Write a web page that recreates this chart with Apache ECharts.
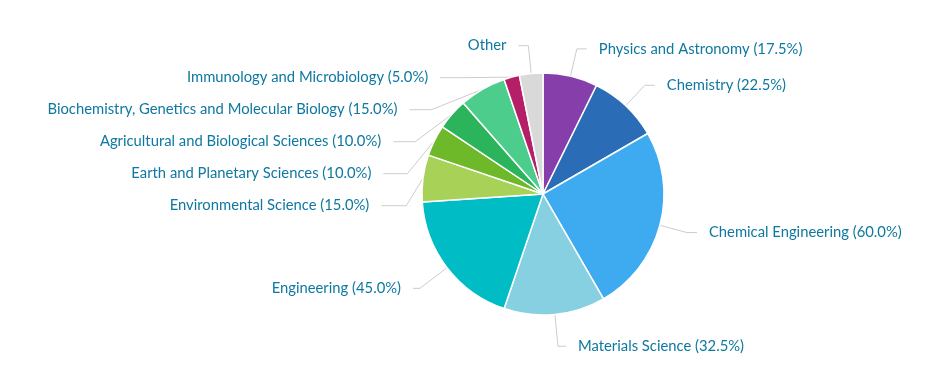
<!DOCTYPE html>
<html>
<head>
<meta charset="utf-8">
<script src="https://cdn.jsdelivr.net/npm/echarts@6/dist/echarts.min.js"></script>
<style>html,body{margin:0;padding:0;background:#fff;}#c{width:931px;height:370px;}</style>
</head>
<body>
<div id="c"></div>
<script>
var categories = ["Physics and Astronomy","Chemistry","Chemical Engineering","Materials Science","Engineering","Environmental Science","Earth and Planetary Sciences","Agricultural and Biological Sciences","Biochemistry, Genetics and Molecular Biology","Immunology and Microbiology","Other"];
var values = [17.5, 22.5, 60.0, 32.5, 45.0, 15.0, 10.0, 10.0, 15.0, 5.0, 7.5];
var showPct = [true, true, true, true, true, true, true, true, true, true, false];
var colors = ["#853eaa","#2a6cb6","#3eaaf0","#86d0e2","#00bcc4","#a8d158","#6eb92a","#2bb45b","#4dcd8c","#b41f68","#d9d9d9"];
// guide-line styling per slice (second segment length, first segment length)
var lineLen2 = [10, 10, 10, 8, 7, 25, 24, 22, 22, 20, 10];
var lineLen1 = [28, 28, 28, 32, 34, 28, 28, 28, 28, 28, 28];

var data = categories.map(function(c, i){
  return {
    name: c, value: values[i],
    itemStyle: {color: colors[i]},
    labelLine: {length: lineLen1[i], length2: lineLen2[i]}
  };
});

var chart = echarts.init(document.getElementById('c'), null, {renderer: 'canvas'});
chart.setOption({
  animation: false,
  series: [{
    type: 'pie',
    center: [543, 194],
    radius: [0, 121],
    startAngle: 90,
    clockwise: true,
    avoidLabelOverlap: true,
    data: data,
    itemStyle: {borderColor: '#fff', borderWidth: 1.5},
    label: {
      show: true,
      fontFamily: 'Lato',
      fontSize: 14.8,
      color: '#0e78a0',
      lineHeight: 25,
      padding: [5, 0, 0, 0],
      distanceToLabelLine: 12,
      formatter: function(p){
        return showPct[p.dataIndex] ? p.name + ' (' + p.value.toFixed(1) + '%)' : p.name;
      }
    },
    labelLine: {
      show: true,
      lineStyle: {color: '#cccccc', width: 1}
    },
    emphasis: {disabled: true}
  }]
});
</script>
</body>
</html>
